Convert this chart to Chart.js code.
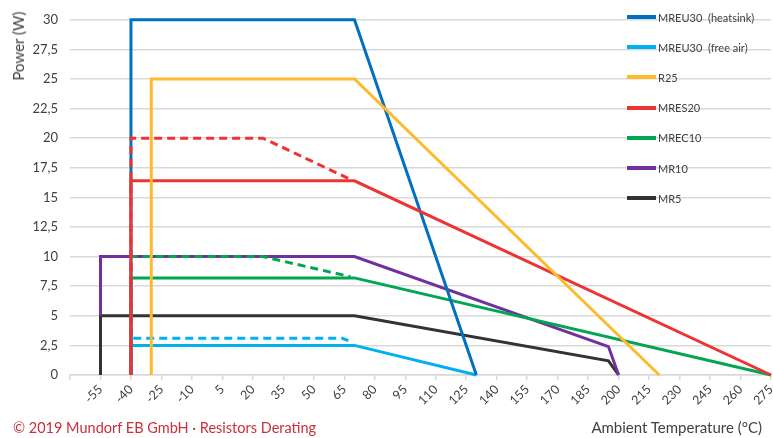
<!DOCTYPE html>
<html>
<head>
<meta charset="utf-8">
<script src="https://cdn.jsdelivr.net/npm/chart.js@4.4.0/dist/chart.umd.min.js"></script>
<style>
  body { margin: 0; background: #fff; font-family: Lato, sans-serif; }
  #wrap { position: relative; width: 773px; height: 438px; }
  #legend { position: absolute; left: 627px; top: 2px; }
  .item { display: flex; align-items: center; height: 30.2px; font-size: 11px; color: #404040; white-space: pre; }
  .swatch { width: 29px; height: 4px; margin-right: 2px; }
  #copy { position: absolute; left: 13px; top: 419px; font-size: 14.5px; color: #C8303A; }
  #xtitle { position: absolute; right: 11px; top: 418px; font-size: 15px; color: #404040; }
  #ytitle { position: absolute; left: 18px; top: 46px; font-size: 15px; color: #404040;
            transform: translate(-50%, -50%) rotate(-90deg); white-space: nowrap; }
</style>
</head>
<body>
<div id="wrap">
  <canvas id="derating" width="773" height="438"></canvas>
  <div id="legend"></div>
  <div id="ytitle">Power (W)</div>
  <div id="xtitle">Ambient Temperature (°C)</div>
  <div id="copy">© 2019 Mundorf EB GmbH · Resistors Derating</div>
</div>
<script>
// temperature (°C) / power (W) pairs
const mreu30HeatsinkT = [-40, -40, 70, 130];
const mreu30HeatsinkW = [0, 30, 30, 0];

const mreu30AirT = [-40, -40, 70, 130];
const mreu30AirW = [0, 2.5, 2.5, 0];
const mreu30AirDashT = [-40, -40, 64, 67];
const mreu30AirDashW = [0, 3.1, 3.1, 2.9];

const r25T = [-30, -30, 70, 220];
const r25W = [0, 25, 25, 0];

const mres20T = [-40, -40, 70, 275];
const mres20W = [0, 16.4, 16.4, 0];
const mres20DashT = [-40, -40, 25, 67];
const mres20DashW = [0, 20, 20, 16.6];

const mrec10T = [-40, -40, 70, 275];
const mrec10W = [0, 8.2, 8.2, 0];
const mrec10DashT = [-40, -40, 25, 68];
const mrec10DashW = [0, 10, 10, 8.3];

const mr10T = [-55, -55, 70, 195, 200];
const mr10W = [5, 10, 10, 2.4, 0];

const mr5T = [-55, -55, 70, 195, 200];
const mr5W = [0, 5, 5, 1.2, 0];

const legendNames = ["MREU30  (heatsink)", "MREU30  (free air)", "R25", "MRES20", "MREC10", "MR10", "MR5"];
const colors = ["#0070C0", "#00B0F0", "#FFBA2B", "#EE3333", "#00A651", "#7030A0", "#333333"];

const xMin = -70, xMax = 275, xStep = 15;
const yMin = 0, yMax = 30, yStep = 2.5;

function pts(ts, ws) {
  return ts.map((t, i) => ({ x: t, y: ws[i] }));
}

function line(label, ts, ws, color, dashed) {
  return {
    label: label,
    data: pts(ts, ws),
    borderColor: color,
    backgroundColor: color,
    borderWidth: 3,
    borderDash: dashed ? [8, 5] : [],
    pointRadius: 0,
    tension: 0,
    fill: false,
    clip: 6,
    borderJoinStyle: 'miter'
  };
}

// first dataset is drawn on top
const datasets = [
  line(legendNames[2], r25T, r25W, colors[2]),
  line(legendNames[3], mres20T, mres20W, colors[3]),
  line("MRES20 dash", mres20DashT, mres20DashW, colors[3], true),
  line(legendNames[0], mreu30HeatsinkT, mreu30HeatsinkW, colors[0]),
  line(legendNames[1], mreu30AirT, mreu30AirW, colors[1]),
  line("MREU30 air dash", mreu30AirDashT, mreu30AirDashW, colors[1], true),
  line("MREC10 dash", mrec10DashT, mrec10DashW, colors[4], true),
  line(legendNames[4], mrec10T, mrec10W, colors[4]),
  line(legendNames[5], mr10T, mr10W, colors[5]),
  line(legendNames[6], mr5T, mr5W, colors[6])
];

Chart.defaults.font.family = 'Lato, sans-serif';
Chart.defaults.color = '#404040';

new Chart(document.getElementById('derating').getContext('2d'), {
  type: 'line',
  data: { datasets: datasets },
  options: {
    responsive: false,
    animation: false,
    layout: { padding: { top: 19, right: 2, left: 0, bottom: 0 } },
    plugins: { legend: { display: false }, tooltip: { enabled: false } },
    scales: {
      x: {
        type: 'linear',
        min: xMin,
        max: xMax,
        afterFit: s => { s.height = 63; s.paddingRight = 0; s.paddingLeft = 0; },
        ticks: {
          stepSize: xStep,
          autoSkip: false,
          maxRotation: 45,
          minRotation: 45,
          font: { size: 12.5 },
          padding: 2,
          callback: v => v === xMin ? '' : String(v)
        },
        grid: { drawOnChartArea: false, color: '#D9D9D9', lineWidth: 1.5, tickLength: 5 },
        border: { color: '#D9D9D9', width: 1.5 }
      },
      y: {
        min: yMin,
        max: yMax,
        afterFit: s => { s.width = 70; },
        ticks: {
          stepSize: yStep,
          font: { size: 13 },
          padding: 12,
          callback: v => String(v).replace('.', ',')
        },
        grid: { color: '#D9D9D9', lineWidth: 1.5, drawTicks: false },
        border: { display: false }
      }
    }
  }
});

// legend built from the named series
const legend = document.getElementById('legend');
legendNames.forEach((name, i) => {
  const item = document.createElement('div');
  item.className = 'item';
  const sw = document.createElement('span');
  sw.className = 'swatch';
  sw.style.background = colors[i];
  item.appendChild(sw);
  item.appendChild(document.createTextNode(name));
  legend.appendChild(item);
});
</script>
</body>
</html>
